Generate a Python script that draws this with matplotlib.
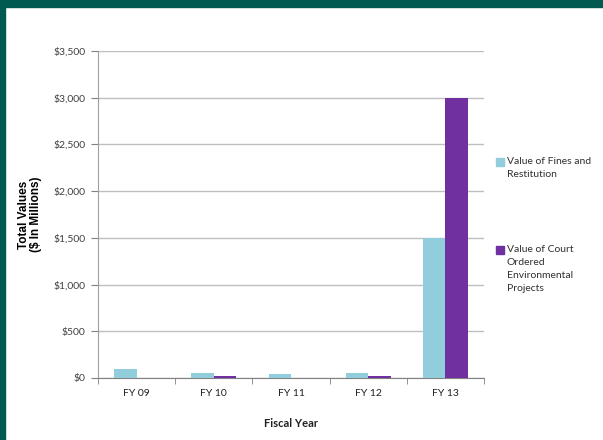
import matplotlib
matplotlib.use("Agg")
import matplotlib.pyplot as plt
import matplotlib.patches as mpatches
import numpy as np

years = ["FY 09", "FY 10", "FY 11", "FY 12", "FY 13"]
fines = [100, 50, 40, 50, 1500]
projects = [0, 20, 0, 20, 3000]
yticks = [0, 500, 1000, 1500, 2000, 2500, 3000, 3500]
series_labels = ["Value of Fines and\nRestitution",
                 "Value of Court\nOrdered\nEnvironmental\nProjects"]

FINES_COL = "#92cddc"
PROJ_COL = "#7030a0"
GRID = "#bfbfbf"
TXT = "#404040"
BORDER = "#005a52"

plt.rcParams["font.family"] = ["Lato", "DejaVu Sans"]

W, H = 603, 440
fig = plt.figure(figsize=(W / 100, H / 100), dpi=100)
ax = fig.add_axes([0.1625, 0.141, 0.640, 0.743])

x = np.arange(len(years))
w = 0.29
ax.bar(x - w / 2, fines, w, color=FINES_COL, zorder=3)
ax.bar(x + w / 2, projects, w, color=PROJ_COL, zorder=3)

ax.set_xlim(-0.5, len(years) - 0.5)
ax.set_ylim(0, 3500)
ax.set_yticks(yticks)
ax.set_yticklabels([f"${v:,}" for v in yticks], fontsize=7.5, color=TXT)
ax.set_xticks(x)
ax.set_xticklabels(years, fontsize=7.5, color="#202020")
ax.set_xticks(np.arange(len(years) + 1) - 0.5, minor=True)
ax.tick_params(axis="x", which="major", length=0, pad=8)
ax.tick_params(axis="x", which="minor", length=4, color="#808080", direction="out")
ax.tick_params(axis="y", length=5, color="#808080", pad=4)
ax.grid(axis="y", color=GRID, lw=1, zorder=0)
for s in ["top", "right"]:
    ax.spines[s].set_visible(False)
ax.spines["left"].set_color("#a0a0a0")
ax.spines["bottom"].set_color("#808080")

ax.set_xlabel("Fiscal Year", fontsize=8, fontweight="bold", color="#202020", labelpad=14)
ax.set_ylabel("Total Values\n($ In Millions)", fontsize=8.5, fontweight="bold",
              family=["Liberation Sans", "DejaVu Sans"], color="black", labelpad=8,
              linespacing=1.0)

# hand-placed legend: swatch beside the first line of each wrapped label
for (label, col, ytop) in zip(series_labels, [FINES_COL, PROJ_COL], [157, 245]):
    fig.patches.append(mpatches.Rectangle((496 / W, 1 - (ytop + 9) / H), 7.5 / W, 7.5 / H,
                                          transform=fig.transFigure, color=col))
    fig.text(507 / W, 1 - ytop / H, label, fontsize=7.5, color="#303030",
             va="top", ha="left", linespacing=1.55)

# teal frame along the top and left edges
fig.patches.append(mpatches.Rectangle((0, 1 - 7 / H), 1, 7 / H,
                                      transform=fig.transFigure, color=BORDER))
fig.patches.append(mpatches.Rectangle((0, 0), 4.5 / W, 1,
                                      transform=fig.transFigure, color=BORDER))

fig.savefig("out.png", dpi=100, facecolor="white")
